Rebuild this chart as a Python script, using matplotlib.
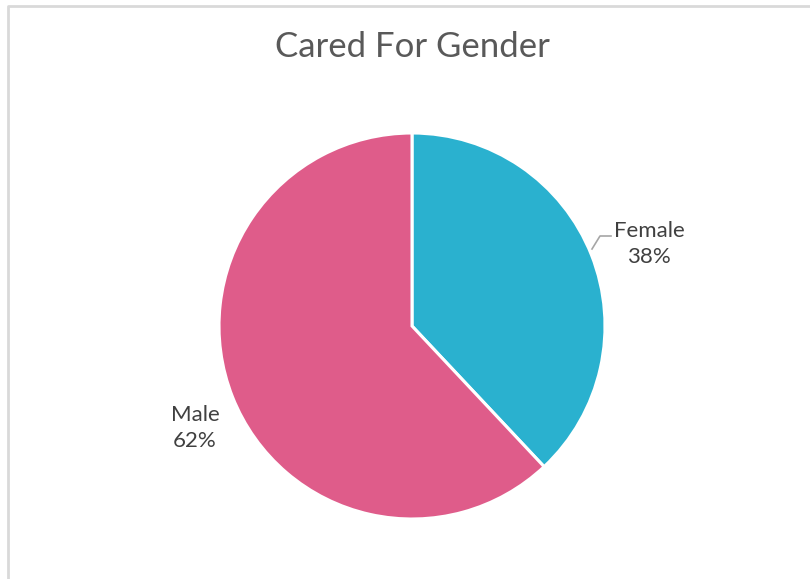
import numpy as np
import matplotlib

matplotlib.use("Agg")
import matplotlib.pyplot as plt

title = "Cared For Gender"
labels = ["Female", "Male"]
shares = [38, 62]
colors = ["#2ab1cf", "#df5c8a"]

W, H = 810, 579
fig = plt.figure(figsize=(W / 100, H / 100), dpi=100)
ax = fig.add_axes([0, 0, 1, 1])

cx, cy, r = 412, H - 326, 193
ax.pie(shares, colors=colors, startangle=90, counterclock=False,
       center=(cx, cy), radius=r, frame=True,
       wedgeprops=dict(edgecolor="white", linewidth=2.2))
ax.set_xlim(0, W)
ax.set_ylim(0, H)
ax.axis("off")

# chart border (left + top only visible)
ax.plot([7.5, 7.5, W + 5], [-5, H - 5.5, H - 5.5], color="#d9d9d9", lw=2, solid_capstyle="butt")

fig.text(412 / W, 1 - 47 / H, title, ha="center", va="center",
         fontsize=25, color="#595959", family="Lato")

# data labels
lab_font = dict(fontsize=16, color="#404040", family="Lato", ha="center", va="center",
                linespacing=1.35)
ax.text(649, H - 244, f"{labels[0]}\n{shares[0]}%", **lab_font)
ax.text(195, H - 428, f"{labels[1]}\n{shares[1]}%", **lab_font)

# leader line for Female
ax.plot([592, 600, 611], [H - 249, H - 236, H - 236], color="#a6a6a6", lw=1.2)

fig.savefig("out.png", dpi=100)
